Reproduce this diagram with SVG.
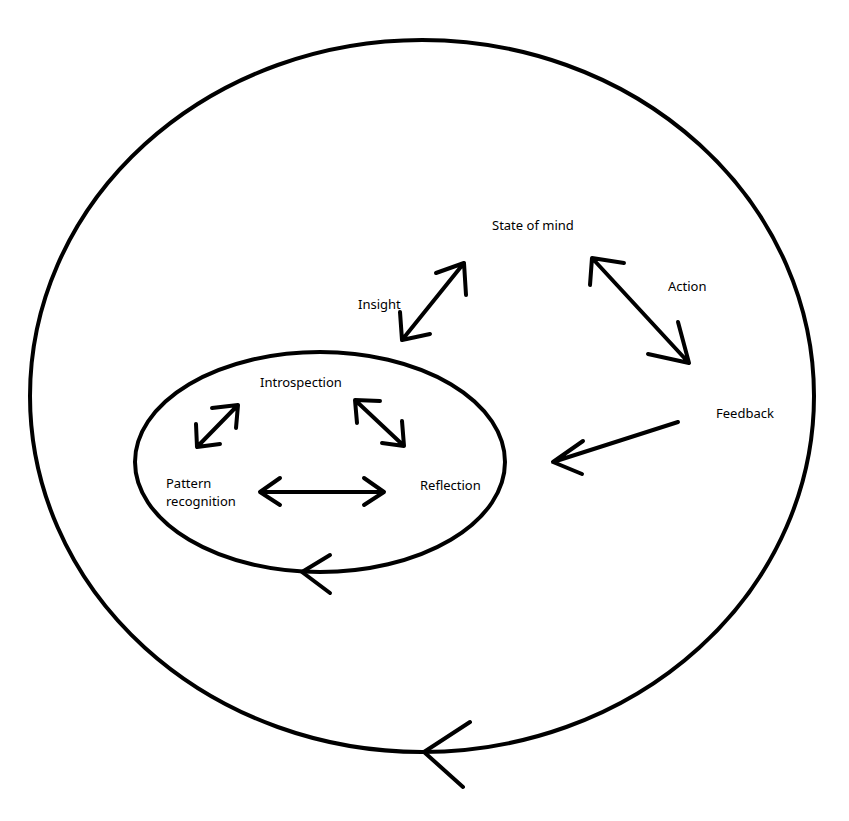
<svg xmlns="http://www.w3.org/2000/svg" width="849" height="821" viewBox="0 0 849 821">
<style>
.s{fill:none;stroke:#000;stroke-width:4;stroke-linecap:round;stroke-linejoin:round}
text{font-family:"Noto Sans","Open Sans",sans-serif;font-size:13px;fill:#000}
</style>
<rect width="849" height="821" fill="#fff"/>
<g id="outer"><ellipse class="s" cx="422" cy="396" rx="392" ry="356"/></g>
<g id="inner"><ellipse class="s" cx="320" cy="462" rx="185" ry="110"/></g>
<g id="connectors">
<path class="s" d="M402 340L464 263M436 273L464 263L466 295M400 312L402 340L430 334"/>
<path class="s" d="M592 258L689 363M624 263L592 258L590 285M678 322L689 363L648 354"/>
<path class="s" d="M678 422L553 462M583 441L553 462L582 474"/>
<path class="s" d="M197 447L238 405M212 408L238 405L236 428M196 424L197 447L220 444"/>
<path class="s" d="M355 400L404 446M380 401L355 400L357 423M402 421L404 446L382 443"/>
<path class="s" d="M260 492L384 492M280 478L260 492L280 505M364 478L384 492L364 505"/>
<path class="s" d="M330 555L302 572L330 593"/>
<path class="s" d="M470 722L424 752L463 787"/>
</g>
<g id="labels">
<text x="492" y="230">State of mind</text>
<text x="358" y="309">Insight</text>
<text x="668" y="291">Action</text>
<text x="716" y="418">Feedback</text>
<text x="260" y="387">Introspection</text>
<text x="166" y="488">Pattern</text>
<text x="166" y="506">recognition</text>
<text x="420" y="490">Reflection</text>
</g>
</svg>
